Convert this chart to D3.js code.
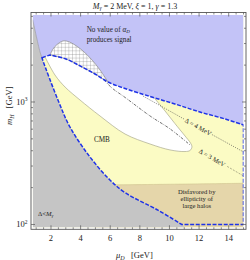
<!DOCTYPE html>
<html>
<head>
<meta charset="utf-8">
<title>Signal region in the mu_D - m_H plane</title>
<style>
  body { margin: 0; background: white; }
  text { font-family: "Liberation Serif", "DejaVu Serif", serif; fill: #222; }
  .tick-label { font-size: 8.5px; }
  .note { font-size: 6.6px; }
</style>
</head>
<body>
<svg id="chart" width="250" height="260"></svg>
<script src="https://cdn.jsdelivr.net/npm/d3@7"></script>
<script>
// [mu_D in GeV, m_H in GeV]
var grayEdge = [[0.765,4700],[1.26,2560],[1.39,2300],[1.46,2163],[2.47,1038],[3.28,625],[4.63,356],[5.98,231],[7.0,182],[9.22,131],[10.83,100],[11.05,94.5]];
var upperEdge = [[1.93,2419],[3.01,2244],[3.96,1969],[4.97,1693],[5.85,1456],[7.0,1288],[8.69,1109],[10.37,963],[12.06,828],[13.75,727],[15.0,649]];
var corner = [1.39, 2300];
var hatchTop = [[1.93,2419],[2.14,2708],[2.41,2947],[2.81,3148],[3.15,3119],[3.62,2920],[4.16,2609],[4.77,2203],[5.31,1825],[5.85,1456]];
var whiteEdge = [[8.96,1084],[9.70,845],[10.37,667],[11.05,528],[11.42,463],[11.52,430],[11.39,402],[11.05,394],[10.04,406],[8.69,454],[7.0,548],[5.31,769],[3.96,1038],[2.95,1325],[2.27,1660],[1.60,2330]];
var tanTop = [[5.0,210],[10,213],[15,217]];
var delta3 = [[5.58,1514],[6.12,1300],[7.0,1090],[8.69,769],[10.04,603],[11.39,446]];
var delta3b = [[13.9,298],[15,249]];
var delta4a = [[8.21,1119],[10.98,726]];
var delta4b = [[12.87,542],[15,391]];
var muMax = 15, mHMin = 100;

var xTicks = [2, 4, 6, 8, 10, 12, 14];
var yTicks = [100, 1000];
var yMinor = [200, 300, 400, 500, 600, 700, 800, 900, 2000, 3000, 4000, 5000];

var svg = d3.select("#chart");
var plot = {left: 32.7, right: 243.5, top: 15, bottom: 227.5};
var frame = {left: 31, right: 246, top: 12.5, bottom: 229.3};

var x = d3.scaleLinear().domain([0.765, 15]).range([plot.left, plot.right]);
var y = d3.scaleLog().domain([94.5, 5130]).range([plot.bottom, plot.top]);

var smooth = d3.line().x(d => x(d[0])).y(d => y(d[1])).curve(d3.curveCatmullRom);
var straight = d3.line().x(d => x(d[0])).y(d => y(d[1]));

// glue several pieces into one closed outline
function shape(parts) {
  return parts.map(function(p, i) {
    var s = p[1](p[0]);
    return i ? "L" + s.slice(1) : s;
  }).join("") + "Z";
}

var defs = svg.append("defs");
defs.append("clipPath").attr("id", "clip")
  .append("rect")
  .attr("x", plot.left).attr("y", plot.top)
  .attr("width", plot.right - plot.left).attr("height", plot.bottom - plot.top);
defs.append("pattern").attr("id", "mesh")
  .attr("patternUnits", "userSpaceOnUse").attr("width", 3.6).attr("height", 3.6)
  .append("path").attr("d", "M0,0H3.6M0,0V3.6")
  .attr("stroke", "#6a6a6a").attr("stroke-width", 0.5);

var g = svg.append("g").attr("clip-path", "url(#clip)");
var xd = x.domain(), yd = y.domain();

// yellow base
g.append("rect")
  .attr("x", plot.left).attr("y", plot.top)
  .attr("width", plot.right - plot.left).attr("height", plot.bottom - plot.top)
  .attr("fill", "#fbfbc4");

// ellipticity of halos
g.append("path")
  .attr("d", shape([[tanTop, smooth], [[[xd[1], yd[0]], [tanTop[0][0], yd[0]]], straight]]))
  .attr("fill", "#e5d6aa");
g.append("path").attr("d", smooth(tanTop))
  .attr("fill", "none").attr("stroke", "#cfc28e").attr("stroke-width", 0.6);

// no value of alpha_D
g.append("path")
  .attr("d", shape([
    [[[xd[0], yd[1]], [xd[1], yd[1]], upperEdge[upperEdge.length - 1]], straight],
    [upperEdge.slice().reverse(), smooth],
    [[upperEdge[0], corner, [xd[0], corner[1]]], straight]
  ]))
  .attr("fill", "#c3c3f7");

// white region
var whitePath = shape([[upperEdge.slice(0, 7), smooth], [whiteEdge, smooth]]);
g.append("path").attr("d", whitePath).attr("fill", "white");
g.append("path").attr("d", smooth(whiteEdge))
  .attr("fill", "none").attr("stroke", "#a9a98c").attr("stroke-width", 0.7);
g.append("path").attr("d", straight([upperEdge[6], whiteEdge[0]]))
  .attr("fill", "none").attr("stroke", "#a9a98c").attr("stroke-width", 0.7);

// hatched region
var hatchPath = shape([[hatchTop, smooth], [upperEdge.slice(0, 5).reverse(), smooth]]);
g.append("path").attr("d", hatchPath).attr("fill", "white");
g.append("path").attr("d", hatchPath).attr("fill", "url(#mesh)")
  .attr("stroke", "#8a8a8a").attr("stroke-width", 0.7);

// Delta < M_gamma
g.append("path")
  .attr("d", shape([[grayEdge, smooth], [[grayEdge[grayEdge.length - 1], [xd[0], yd[0]]], straight]]))
  .attr("fill", "#c5c5c5");
g.append("path").attr("d", smooth(grayEdge.slice(0, 3)))
  .attr("fill", "none").attr("stroke", "#9a9a9a").attr("stroke-width", 0.6);

// Delta lines
g.append("path").attr("d", smooth(delta3))
  .attr("fill", "none").attr("stroke", "#333").attr("stroke-width", 0.7)
  .attr("stroke-dasharray", "3,1.3,0.8,1.3");
g.append("path").attr("d", straight(delta3b))
  .attr("fill", "none").attr("stroke", "#8c8c70").attr("stroke-width", 0.7)
  .attr("stroke-dasharray", "2,1.3");
[delta4a, delta4b].forEach(function(seg) {
  g.append("path").attr("d", straight(seg))
    .attr("fill", "none").attr("stroke", "#444").attr("stroke-width", 0.8)
    .attr("stroke-dasharray", "0.8,1.4");
});

// signal region boundary
var gi = grayEdge.findIndex(d => d[1] === mHMin);
g.append("path")
  .attr("d", shape([
    [[corner, upperEdge[0]], straight],
    [upperEdge, smooth],
    [[upperEdge[upperEdge.length - 1], [muMax, mHMin], grayEdge[gi]], straight],
    [grayEdge.slice(2, gi + 1).reverse(), smooth]
  ]))
  .attr("fill", "none").attr("stroke", "#1f33e8").attr("stroke-width", 1.5)
  .attr("stroke-dasharray", "4,1.6");

// labels inside the plot
var t1 = svg.append("text").attr("class", "note").style("font-size", "7.2px")
  .attr("x", x(4.41)).attr("y", y(3760));
t1.append("tspan").text("No value of ");
t1.append("tspan").attr("font-style", "italic").text("α");
t1.append("tspan").attr("font-style", "italic").attr("font-size", "5px").attr("dy", 1.5).text("D");
svg.append("text").attr("class", "note").style("font-size", "7.2px")
  .attr("x", x(4.41)).attr("y", y(3760) + 10).text("produces signal");

svg.append("text").attr("class", "note").style("font-size", "7.2px")
  .attr("text-anchor", "middle").attr("x", x(5.44)).attr("y", y(467)).text("CMB");

function rotLabel(txt, mx, my, ang) {
  svg.append("text").attr("class", "note")
    .attr("text-anchor", "middle").attr("dy", "0.32em")
    .attr("transform", "translate(" + x(mx) + "," + y(my) + ") rotate(" + ang + ")")
    .text(txt);
}
rotLabel("Δ = 4 MeV", 11.93, 625, 29);
rotLabel("Δ = 3 MeV", 12.87, 349, 30);

["Disfavored by", "ellipticity of", "large halos"].forEach(function(s, i) {
  svg.append("text").attr("class", "note").attr("text-anchor", "middle")
    .attr("x", x(11.84)).attr("y", y(179) + i * 7).text(s);
});

var t2 = svg.append("text").attr("class", "note").attr("x", x(1.12)).attr("y", y(118));
t2.append("tspan").text("Δ<");
t2.append("tspan").attr("font-style", "italic").text("M");
t2.append("tspan").attr("font-style", "italic").attr("font-size", "4.8px").attr("dy", 1.4).text("γ");

// frame and ticks
svg.append("rect")
  .attr("x", frame.left).attr("y", frame.top)
  .attr("width", frame.right - frame.left).attr("height", frame.bottom - frame.top)
  .attr("fill", "none").attr("stroke", "#555").attr("stroke-width", 0.9);

var ticks = svg.append("g").attr("stroke", "#555").attr("stroke-width", 0.7);
var xMinor = d3.range(1, 15.01, 0.5).filter(v => xTicks.indexOf(v) < 0);
function xTick(v, len) {
  ticks.append("line").attr("x1", x(v)).attr("x2", x(v)).attr("y1", frame.bottom).attr("y2", frame.bottom - len);
  ticks.append("line").attr("x1", x(v)).attr("x2", x(v)).attr("y1", frame.top).attr("y2", frame.top + len);
}
function yTick(v, len) {
  ticks.append("line").attr("y1", y(v)).attr("y2", y(v)).attr("x1", frame.left).attr("x2", frame.left + len);
  ticks.append("line").attr("y1", y(v)).attr("y2", y(v)).attr("x1", frame.right).attr("x2", frame.right - len);
}
xTicks.forEach(v => xTick(v, 4));
xMinor.forEach(v => xTick(v, 2));
yTicks.forEach(v => yTick(v, 4));
yMinor.forEach(v => yTick(v, 2));

svg.selectAll(".xlab").data(xTicks).enter().append("text")
  .attr("class", "tick-label").attr("text-anchor", "middle")
  .attr("x", d => x(d)).attr("y", frame.bottom + 12).text(d => d);

yTicks.forEach(function(v) {
  var t = svg.append("text").attr("class", "tick-label").attr("text-anchor", "end")
    .attr("x", 27.5).attr("y", y(v) + 3);
  t.append("tspan").text("10");
  t.append("tspan").attr("font-size", "5.5px").attr("dy", -3.5).text(Math.round(Math.log10(v)));
});

// axis titles
var xt = svg.append("text").attr("class", "tick-label").attr("x", 116).attr("y", 257.5);
xt.append("tspan").attr("font-style", "italic").text("μ");
xt.append("tspan").attr("font-style", "italic").attr("font-size", "6px").attr("dy", 2).text("D");
xt.append("tspan").attr("dy", -2).text("\u00a0\u00a0\u00a0[GeV]");

var yt = svg.append("text").attr("class", "tick-label")
  .attr("transform", "translate(12,125) rotate(-90)");
yt.append("tspan").attr("font-style", "italic").text("m");
yt.append("tspan").attr("font-style", "italic").attr("font-size", "6px").attr("dy", 2).text("H");
yt.append("tspan").attr("dy", -2).text("\u00a0\u00a0\u00a0[GeV]");

// title
var tt = svg.append("text").attr("text-anchor", "middle").style("font-size", "8px")
  .attr("x", 135).attr("y", 8.8);
tt.append("tspan").attr("font-style", "italic").text("M");
tt.append("tspan").attr("font-style", "italic").attr("font-size", "5.5px").attr("dy", 1.5).text("γ");
tt.append("tspan").attr("dy", -1.5).text(" = 2 MeV, ");
tt.append("tspan").attr("font-style", "italic").text("ξ");
tt.append("tspan").text(" = 1, ");
tt.append("tspan").attr("font-style", "italic").text("γ");
tt.append("tspan").text(" = 1.3");
</script>
</body>
</html>
